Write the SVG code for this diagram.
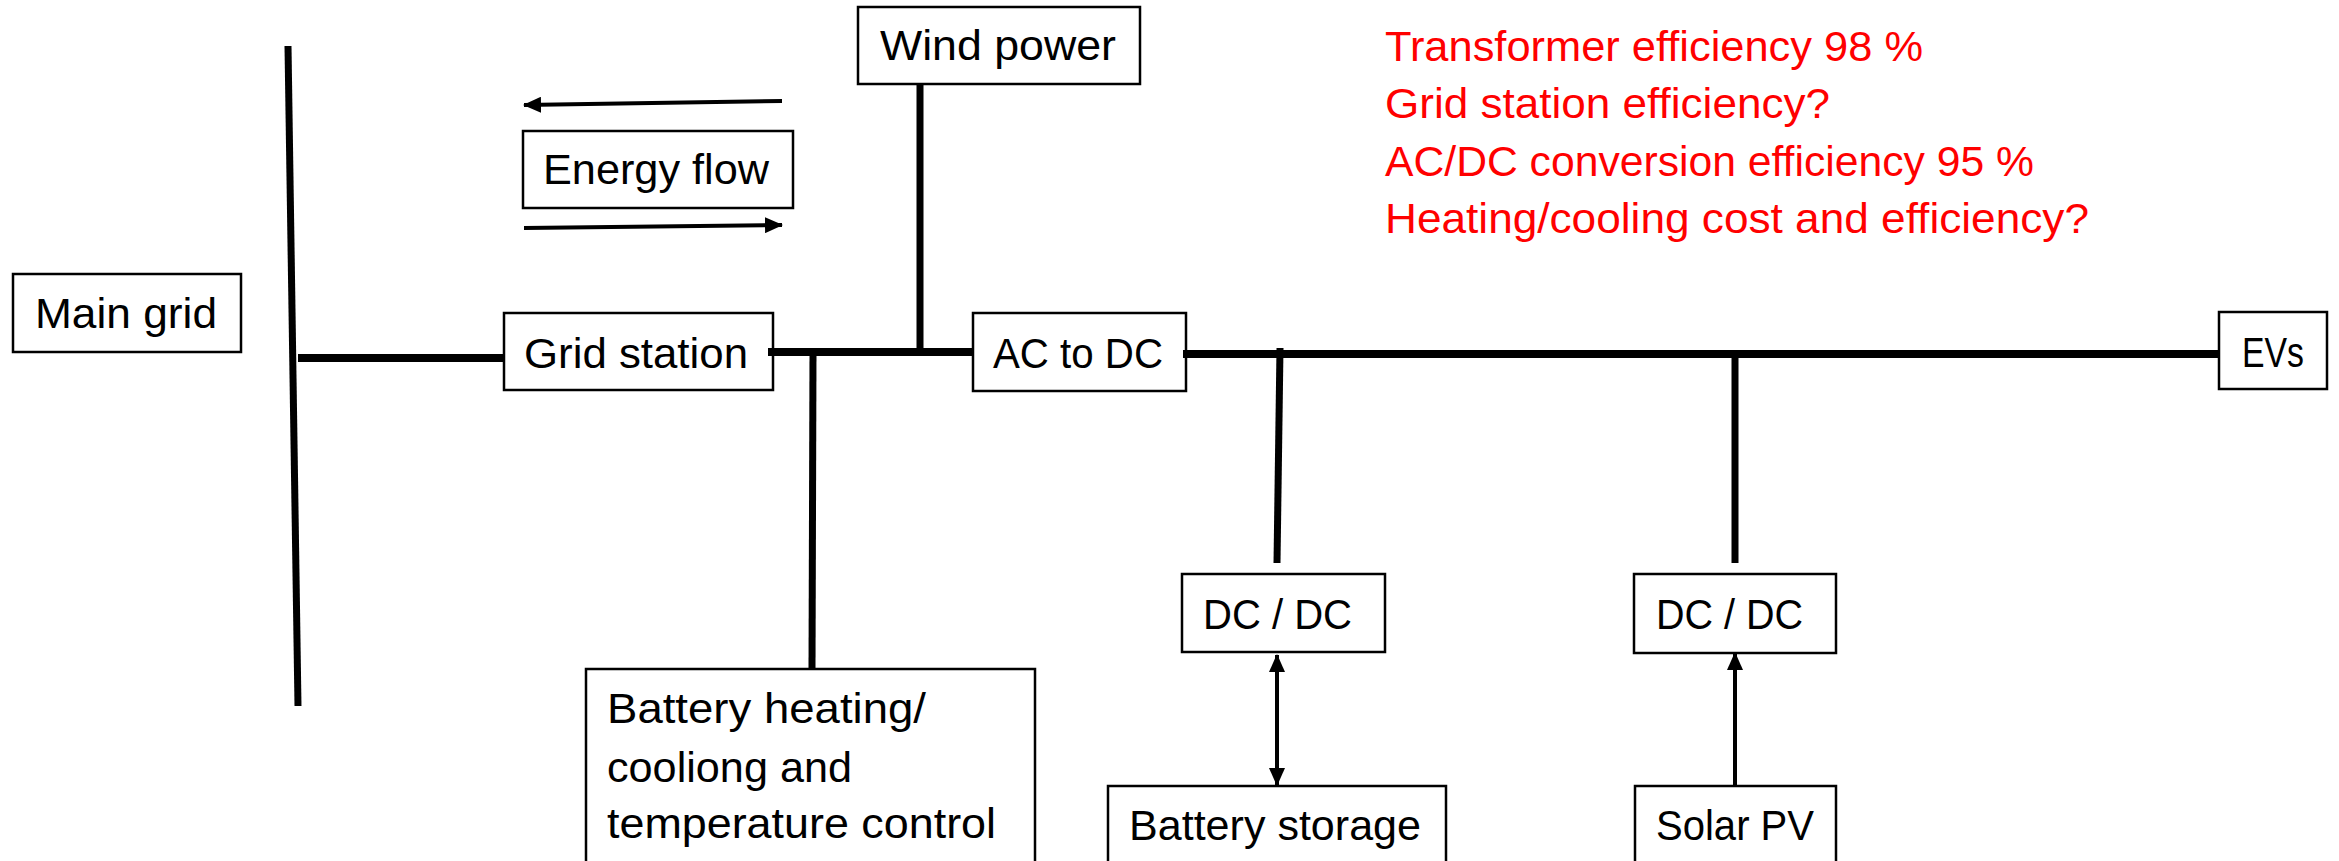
<svg xmlns="http://www.w3.org/2000/svg" width="2339" height="861" viewBox="0 0 2339 861">
<style>
.box{fill:#fff;stroke:#000;stroke-width:2.5}
.t{font-family:"Liberation Sans",Arial,sans-serif;font-size:42px;fill:#000}
.r{font-family:"Liberation Sans",Arial,sans-serif;font-size:42px;fill:#ff0000}
.bus{stroke:#000;stroke-width:8;fill:none}
.br{stroke:#000;stroke-width:7;fill:none}
.ar{stroke:#000;stroke-width:4;fill:none}
</style>
<defs>
<marker id="ah" markerUnits="userSpaceOnUse" markerWidth="18" markerHeight="16" refX="17" refY="8" orient="auto-start-reverse">
<path d="M0,0 L18,8 L0,16 z" fill="#000"/>
</marker>
</defs>
<rect width="2339" height="861" fill="#fff"/>
<g id="main-grid"><rect class="box" x="13" y="274" width="228" height="78"/><text class="t" x="35" y="328" textLength="182" lengthAdjust="spacingAndGlyphs">Main grid</text></g>
<g id="energy-flow"><rect class="box" x="523" y="131" width="270" height="77"/><text class="t" x="543" y="184" textLength="226" lengthAdjust="spacingAndGlyphs">Energy flow</text></g>
<g id="grid-station"><rect class="box" x="504" y="313" width="269" height="77"/><text class="t" x="524" y="368" textLength="224" lengthAdjust="spacingAndGlyphs">Grid station</text></g>
<g id="wind-power"><rect class="box" x="858" y="7" width="282" height="77"/><text class="t" x="880" y="60" textLength="236" lengthAdjust="spacingAndGlyphs">Wind power</text></g>
<g id="ac-dc"><rect class="box" x="973" y="313" width="213" height="78"/><text class="t" x="993" y="368" textLength="170" lengthAdjust="spacingAndGlyphs">AC to DC</text></g>
<g id="evs"><rect class="box" x="2219" y="312" width="108" height="77"/><text class="t" x="2242" y="367" textLength="62" lengthAdjust="spacingAndGlyphs">EVs</text></g>
<g id="battery-heating"><rect class="box" x="586" y="669" width="449" height="200"/>
<text class="t" x="607" y="723" textLength="319" lengthAdjust="spacingAndGlyphs">Battery heating/</text>
<text class="t" x="607" y="782" textLength="245" lengthAdjust="spacingAndGlyphs">cooliong and</text>
<text class="t" x="607" y="838" textLength="389" lengthAdjust="spacingAndGlyphs">temperature control</text></g>
<g id="dcdc-1"><rect class="box" x="1182" y="574" width="203" height="78"/><text class="t" x="1203" y="629" textLength="149" lengthAdjust="spacingAndGlyphs">DC / DC</text></g>
<g id="dcdc-2"><rect class="box" x="1634" y="574" width="202" height="79"/><text class="t" x="1656" y="629" textLength="147" lengthAdjust="spacingAndGlyphs">DC / DC</text></g>
<g id="battery-storage"><rect class="box" x="1108" y="786" width="338" height="90"/><text class="t" x="1129" y="840" textLength="292" lengthAdjust="spacingAndGlyphs">Battery storage</text></g>
<g id="solar-pv"><rect class="box" x="1635" y="786" width="201" height="90"/><text class="t" x="1656" y="840" textLength="158" lengthAdjust="spacingAndGlyphs">Solar PV</text></g>
<g id="notes">
<text class="r" x="1385" y="61" textLength="538" lengthAdjust="spacingAndGlyphs">Transformer efficiency 98 %</text>
<text class="r" x="1385" y="118" textLength="445" lengthAdjust="spacingAndGlyphs">Grid station efficiency?</text>
<text class="r" x="1385" y="176" textLength="649" lengthAdjust="spacingAndGlyphs">AC/DC conversion efficiency 95 %</text>
<text class="r" x="1385" y="233" textLength="704" lengthAdjust="spacingAndGlyphs">Heating/cooling cost and efficiency?</text>
</g>
<g id="connectors">
<line class="br" x1="288" y1="46" x2="298" y2="706" stroke-width="6"/>
<line class="bus" x1="298" y1="358" x2="504" y2="358"/>
<line class="bus" x1="768" y1="352" x2="973" y2="352"/>
<line class="br" x1="920" y1="84" x2="920" y2="352"/>
<line class="br" x1="813" y1="352" x2="812" y2="669"/>
<line class="bus" x1="1183" y1="354" x2="2219" y2="354"/>
<line class="br" x1="1280" y1="348" x2="1277" y2="563"/>
<line class="br" x1="1735" y1="354" x2="1735" y2="563"/>
<line class="ar" x1="782" y1="101" x2="524" y2="105" marker-end="url(#ah)"/>
<line class="ar" x1="524" y1="228" x2="782" y2="225" marker-end="url(#ah)"/>
<line class="ar" x1="1277" y1="655" x2="1277" y2="785" marker-start="url(#ah)" marker-end="url(#ah)"/>
<line class="ar" x1="1735" y1="786" x2="1735" y2="653" marker-end="url(#ah)"/>
</g>
</svg>
